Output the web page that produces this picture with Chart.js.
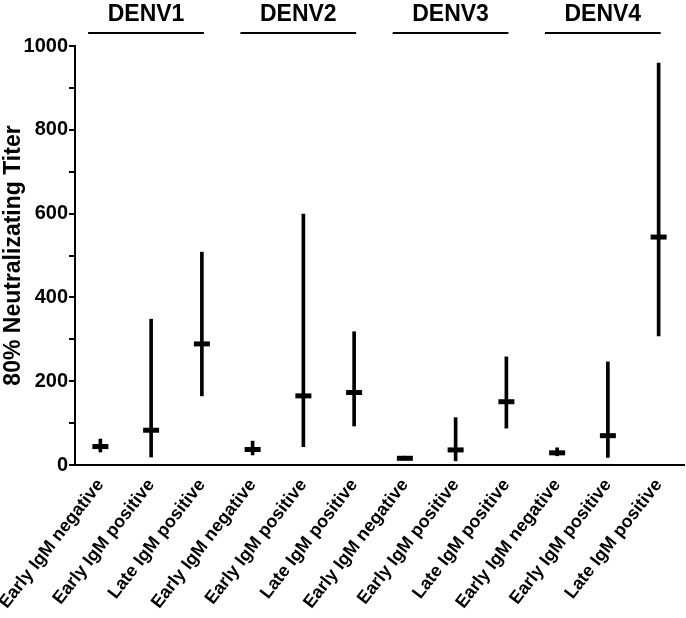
<!DOCTYPE html>
<html>
<head>
<meta charset="utf-8">
<script src="https://cdn.jsdelivr.net/npm/chart.js@4/dist/chart.umd.min.js"></script>
<style>
  html, body { margin: 0; padding: 0; background: #fff; overflow: hidden; }
  #wrap { width: 686px; height: 618px; }
</style>
</head>
<body>
<div id="wrap"><canvas id="titerChart"></canvas></div>
<script>
// DATI
var categories = [
  'Early IgM negative', 'Early IgM positive', 'Late IgM positive',
  'Early IgM negative', 'Early IgM positive', 'Late IgM positive',
  'Early IgM negative', 'Early IgM positive', 'Late IgM positive',
  'Early IgM negative', 'Early IgM positive', 'Late IgM positive'
];
var serotypes = ['DENV1', 'DENV2', 'DENV3', 'DENV4'];
var lowValues = [31, 19, 165, 24, 44, 93, 12, 10, 88, 22, 18, 308];
var highValues = [62, 348, 508, 57, 599, 318, 21, 113, 258, 41, 246, 959];
var medianValues = [44, 83, 289, 37, 165, 173, 16, 36, 151, 29, 70, 544];
var yTickLabels = [0, 200, 400, 600, 800, 1000];

var FONT = "'Liberation Sans', Arial, sans-serif";

// etichette dei sierotipi sopra i gruppi
var groupLabels = {
  id: 'groupLabels',
  afterDraw: function (chart) {
    var ctx = chart.ctx;
    var x = chart.scales.x;
    var step = x.getPixelForValue(1) - x.getPixelForValue(0);
    ctx.save();
    ctx.strokeStyle = '#000';
    ctx.fillStyle = '#000';
    ctx.lineWidth = 2;
    ctx.font = 'bold 23px ' + FONT;
    ctx.textAlign = 'center';
    ctx.textBaseline = 'middle';
    for (var g = 0; g < serotypes.length; g++) {
      var x0 = x.getPixelForValue(g * 3) - step * 0.24;
      var x1 = x.getPixelForValue(g * 3 + 2) + step * 0.04;
      ctx.beginPath();
      ctx.moveTo(x0, 33);
      ctx.lineTo(x1, 33);
      ctx.stroke();
      ctx.fillText(serotypes[g], (x0 + x1) / 2, 15);
    }
    ctx.restore();
  }
};

var rangeData = lowValues.map(function (v, i) { return [v, highValues[i]]; });

new Chart(document.getElementById('titerChart'), {
  type: 'bar',
  data: {
    labels: categories,
    datasets: [
      {
        type: 'line',
        label: 'median',
        data: medianValues,
        showLine: false,
        pointStyle: 'line',
        pointRadius: 8,
        pointHoverRadius: 8,
        pointBorderWidth: 5,
        borderColor: '#000',
        backgroundColor: '#000'
      },
      {
        label: 'range',
        data: rangeData,
        barThickness: 3,
        backgroundColor: '#000',
        borderWidth: 0
      }
    ]
  },
  options: {
    responsive: true,
    maintainAspectRatio: false,
    animation: false,
    layout: { autoPadding: false, padding: { top: 46, right: 2, left: 0, bottom: 0 } },
    plugins: {
      legend: { display: false },
      tooltip: { enabled: false }
    },
    scales: {
      x: {
        offset: true,
        grid: { display: false },
        border: { display: true, color: '#000', width: 2 },
        afterFit: function (scale) {
          scale.height = 153;
          scale.paddingLeft = 0;
          scale.paddingRight = 0;
        },
        ticks: {
          color: '#000',
          minRotation: 52,
          maxRotation: 52,
          autoSkip: false,
          padding: 2,
          font: { family: FONT, size: 18, weight: 'bold' }
        }
      },
      y: {
        min: 0,
        max: 1000,
        afterFit: function (scale) { scale.width = 75; },
        grid: {
          drawOnChartArea: false,
          drawTicks: true,
          tickLength: 6,
          color: '#000',
          lineWidth: 2
        },
        border: { display: true, color: '#000', width: 2 },
        ticks: {
          stepSize: 50,
          color: '#000',
          padding: 1,
          font: { family: FONT, size: 20, weight: 'bold' },
          callback: function (v) { return yTickLabels.indexOf(v) >= 0 ? v : ''; }
        },
        title: {
          display: true,
          text: '80% Neutralizating Titer',
          color: '#000',
          padding: { top: 0, bottom: 0 },
          font: { family: FONT, size: 23, weight: 'bold' }
        }
      }
    }
  },
  plugins: [groupLabels]
});
</script>
</body>
</html>
